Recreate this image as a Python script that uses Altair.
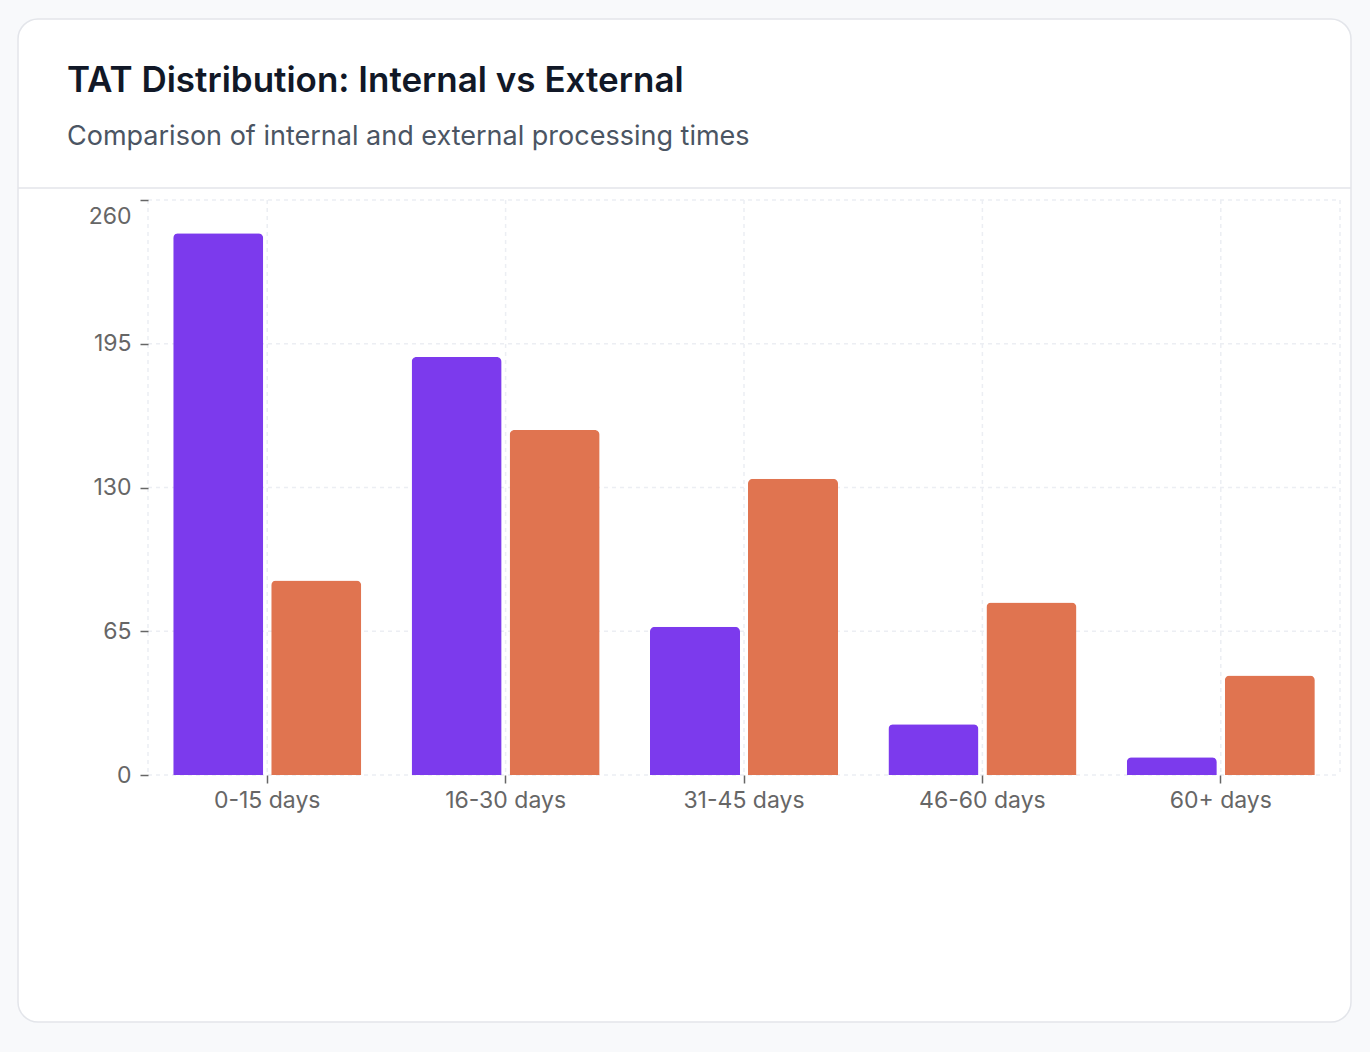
import altair as alt
import pandas as pd

categories = ["0-15 days", "16-30 days", "31-45 days", "46-60 days", "60+ days"]
internal = [245, 189, 67, 23, 8]
external = [88, 156, 134, 78, 45]
series = ["Internal", "External"]
colors = ["#7c3aed", "#e07450"]
y_ticks = [0, 65, 130, 195, 260]
title = "TAT Distribution: Internal vs External"
subtitle = "Comparison of internal and external processing times"

rows = []
for c, i, e in zip(categories, internal, external):
    rows.append({"category": c, "series": "Internal", "value": i})
    rows.append({"category": c, "series": "External", "value": e})
df = pd.DataFrame(rows)

W, H = 1192, 575
FONT = "Inter"
GRID = "#eceef3"

one = pd.DataFrame({"a": [0]})

card = alt.Chart(one).mark_rect(
    fill="white", stroke="#e3e5ea", strokeWidth=1.5, cornerRadius=20, clip=False
).encode(
    x=alt.value(-130), x2=alt.value(1203), y=alt.value(-181), y2=alt.value(822)
)

divider = alt.Chart(one).mark_rule(color="#e3e5ea", strokeWidth=1.5, clip=False).encode(
    x=alt.value(-130), x2=alt.value(1203), y=alt.value(-12)
)

left_edge = alt.Chart(one).mark_rule(color=GRID, strokeDash=[4, 4], strokeWidth=1.5).encode(
    x=alt.value(0), y=alt.value(0), y2=alt.value(H)
)
right_edge = alt.Chart(one).mark_rule(color=GRID, strokeDash=[4, 4], strokeWidth=1.5).encode(
    x=alt.value(W), y=alt.value(0), y2=alt.value(H)
)

ygrid = alt.Chart(pd.DataFrame({"v": y_ticks})).mark_rule(
    color=GRID, strokeDash=[4, 4], strokeWidth=1.5
).encode(y=alt.Y("v:Q"), x=alt.value(0), x2=alt.value(W))

xgrid = alt.Chart(pd.DataFrame({"category": categories})).mark_rule(
    color=GRID, strokeDash=[4, 4], strokeWidth=1.5
).encode(x=alt.X("category:N", sort=categories), y=alt.value(0), y2=alt.value(H))

title_t = alt.Chart(one).mark_text(
    text=title, font=FONT, fontSize=35, fontWeight=600, color="#111827",
    align="left", baseline="alphabetic", clip=False
).encode(x=alt.value(-81), y=alt.value(-108))

sub_t = alt.Chart(one).mark_text(
    text=subtitle, font=FONT, fontSize=27, fontWeight=400, color="#4b5563",
    align="left", baseline="alphabetic", clip=False
).encode(x=alt.value(-81), y=alt.value(-55))

bars = alt.Chart(df).mark_bar(
    cornerRadiusTopLeft=5, cornerRadiusTopRight=5
).encode(
    x=alt.X(
        "category:N", sort=categories,
        scale=alt.Scale(paddingInner=0, paddingOuter=0),
        axis=alt.Axis(
            title=None, labelAngle=0, labelAlign="center", labelBaseline="top",
            labelFont=FONT, labelFontSize=23,
            labelColor="#666666", tickColor="#666666", tickSize=8, tickWidth=1.5,
            domain=False, grid=False, labelPadding=6, zindex=1,
        ),
    ),
    xOffset=alt.XOffset(
        "series:N", sort=series,
        scale=alt.Scale(paddingInner=0.0816, paddingOuter=0.257),
    ),
    y=alt.Y(
        "value:Q",
        scale=alt.Scale(domain=[0, 260], nice=False),
        axis=alt.Axis(
            title=None, values=y_ticks, labelFont=FONT, labelFontSize=23,
            labelColor="#666666", tickColor="#666666", tickSize=8, tickWidth=1.5,
            domain=False, grid=False, labelPadding=9, zindex=1,
            labelOffset={"condition": {"test": "datum.value == 260", "value": 16}, "value": 0},
        ),
    ),
    color=alt.Color(
        "series:N", sort=series,
        scale=alt.Scale(domain=series, range=colors), legend=None,
    ),
)

chart = alt.layer(card, divider, title_t, sub_t, left_edge, right_edge, ygrid, xgrid, bars).properties(
    width=W, height=H,
    autosize=alt.AutoSizeParams(type="none"),
    padding={"left": 148, "top": 200, "right": 30, "bottom": 277},
    background="#f8f9fb",
).configure_view(stroke=None)

chart.save("out.html", embed_options={"renderer": "svg", "actions": False})
